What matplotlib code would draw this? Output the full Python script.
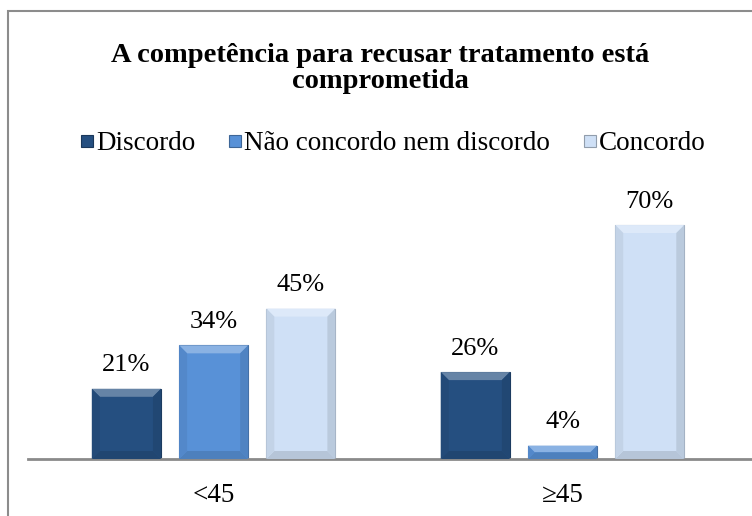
import matplotlib.pyplot as plt
import matplotlib.patches as mpatches
from matplotlib.lines import Line2D
import numpy as np

# ----------------------------
# DATA
# ----------------------------
GROUPS = ["<45", "≥45"]
SERIES = ["Discordo", "Não concordo nem discordo", "Concordo"]
VALUES = {
    "Discordo": [21, 26],
    "Não concordo nem discordo": [34, 4],
    "Concordo": [45, 70],
}
TITLE_LINES = ["A competência para recusar tratamento está", "comprometida"]

COLORS = ["#254f80", "#5891d7", "#cfe0f6"]
FONT = "Liberation Serif"

W, H = 752, 516
fig = plt.figure(figsize=(W / 100, H / 100), dpi=100)

# outer frame (cropped on right/bottom)
fig.patches.append(mpatches.Rectangle((8 / W, -0.05), 1.2, 1 - 11 / H + 0.05,
                                      transform=fig.transFigure, fill=False,
                                      edgecolor="#8c8c8c", linewidth=1.5))

ax = fig.add_axes([28 / W, (H - 459) / H, 1 - 28 / W, 267.4 / H])
ax.set_xlim(-0.532, 1.543)
ax.set_ylim(0, 80)
for s in ["top", "right", "left"]:
    ax.spines[s].set_visible(False)
ax.spines["bottom"].set_color("#8a8a8a")
ax.spines["bottom"].set_linewidth(2)
ax.set_yticks([])
ax.set_xticks(range(len(GROUPS)))
ax.set_xticklabels(GROUPS, fontfamily=FONT, fontsize=19.5)
ax.tick_params(axis="x", length=0, pad=17)
ax.patch.set_alpha(0)

x = np.arange(len(GROUPS))
width = 0.198
offsets = [-0.25, 0, 0.25]


def shade(color, f):
    c = np.array(plt.matplotlib.colors.to_rgb(color))
    if f > 0:
        return tuple(c + (1 - c) * f)
    return tuple(c * (1 + f))


px_x = 349.0  # pixels per x unit
px_y = 267.4 / 80  # pixels per y unit
handles = []
for name, color, off in zip(SERIES, COLORS, offsets):
    vals = VALUES[name]
    bars = ax.bar(x + off, vals, width, color=color, edgecolor=shade(color, -0.25),
                  linewidth=0.8, zorder=2)
    handles.append(Line2D([], [], linestyle="none", marker="s", markersize=8.5,
                          markerfacecolor=color, markeredgecolor=shade(color, -0.3),
                          markeredgewidth=0.8, label=name))
    for b, v in zip(bars, vals):
        x0, x1 = b.get_x(), b.get_x() + b.get_width()
        bev = min(8 / px_y, v / 2)
        dx = bev * px_y / px_x
        # top bevel (light)
        ax.add_patch(mpatches.Polygon([(x0, v), (x1, v), (x1 - dx, v - bev), (x0 + dx, v - bev)],
                                      closed=True, facecolor=shade(color, 0.3),
                                      edgecolor="none", zorder=3))
        # bottom bevel (dark)
        ax.add_patch(mpatches.Polygon([(x0, 0), (x1, 0), (x1 - dx, bev), (x0 + dx, bev)],
                                      closed=True, facecolor=shade(color, -0.12),
                                      edgecolor="none", zorder=3))
        # side bevels
        ax.add_patch(mpatches.Polygon([(x0, 0), (x0 + dx, bev), (x0 + dx, v - bev), (x0, v)],
                                      closed=True, facecolor=shade(color, -0.06),
                                      edgecolor="none", zorder=3))
        ax.add_patch(mpatches.Polygon([(x1, 0), (x1 - dx, bev), (x1 - dx, v - bev), (x1, v)],
                                      closed=True, facecolor=shade(color, -0.1),
                                      edgecolor="none", zorder=3))
        ax.annotate(f"{v}%", (b.get_x() + b.get_width() / 2, v), xytext=(0, 9),
                    textcoords="offset points", ha="center", va="bottom",
                    fontfamily=FONT, fontsize=19)

for line, base in zip(TITLE_LINES, [62, 88]):
    fig.text(380 / W, 1 - base / H, line, ha="center", va="baseline", fontfamily=FONT,
             fontweight="bold", fontsize=20.5)

fig.legend(handles=handles, loc="center", bbox_to_anchor=(393 / W, 1 - 144 / H), ncol=3,
           frameon=False, prop={"family": FONT, "size": 19.5}, handlelength=0.5,
           handletextpad=0.1, columnspacing=1.2)

fig.savefig("out.png", dpi=100)
